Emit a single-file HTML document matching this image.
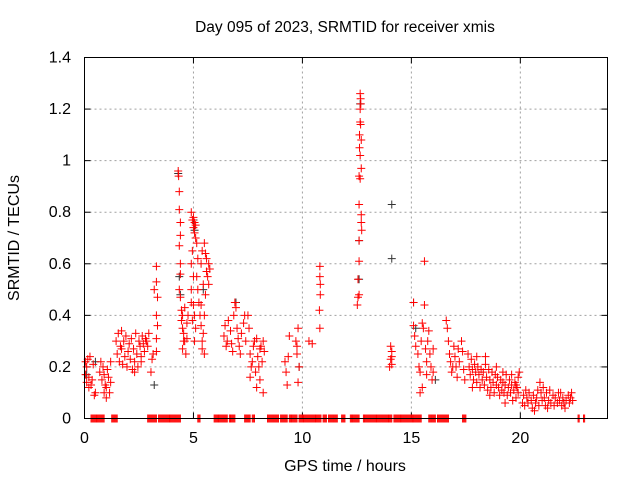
<!DOCTYPE html>
<html><head><meta charset="utf-8"><style>
body{margin:0;background:#fff;width:640px;height:480px;overflow:hidden}
svg{font-family:"Liberation Sans",sans-serif;font-size:16px}
</style></head><body>
<svg id="chart" width="640" height="480" xmlns="http://www.w3.org/2000/svg">
<text x="345" y="32" text-anchor="middle" font-size="15.5">Day 095 of 2023, SRMTID for receiver xmis</text>
<text transform="translate(19,238) rotate(-90)" text-anchor="middle">SRMTID / TECUs</text>
<text x="345" y="471" text-anchor="middle">GPS time / hours</text>
<g id="grid"></g><g id="ticks"></g><g id="marks"></g>
<rect x="84.5" y="57.5" width="523" height="361" fill="none" stroke="#000" stroke-width="1"/>
</svg>
<script>
const xTicks=[0,5,10,15,20];
const yTicks=[0,0.2,0.4,0.6,0.8,1,1.2,1.4];
const yTickLabels=["0","0.2","0.4","0.6","0.8","1","1.2","1.4"];
const redPoints=[[0.05,0.22],[0.05,0.17],[0.1,0.14],[0.1,0.2],[0.15,0.23],[0.2,0.16],[0.2,0.12],[0.25,0.24],[0.3,0.13],[0.35,0.15],[0.4,0.21],[0.45,0.09],[0.5,0.1],[0.7,0.18],[0.75,0.22],[0.8,0.15],[0.85,0.2],[0.9,0.1],[0.9,0.17],[0.95,0.13],[1.0,0.12],[1.0,0.08],[1.05,0.19],[1.1,0.16],[1.15,0.1],[1.2,0.14],[1.2,0.22],
[1.45,0.3],[1.5,0.25],[1.55,0.33],[1.6,0.22],[1.65,0.28],[1.7,0.27],[1.75,0.21],[1.8,0.3],[1.85,0.24],[1.9,0.32],[1.95,0.2],[2.0,0.26],[2.05,0.29],[2.1,0.23],[2.15,0.31],[2.2,0.19],[2.25,0.27],[2.3,0.22],[2.35,0.33],[2.4,0.25],[2.45,0.2],[2.5,0.3],[2.55,0.28],[2.6,0.24],[2.65,0.32],[2.7,0.29],[2.75,0.26],[2.8,0.31],[2.85,0.3],[2.9,0.28],[2.95,0.33],[2.3,0.18],[2.6,0.22],[1.7,0.34],
[3.05,0.18],[3.1,0.23],[3.15,0.25],[3.2,0.5],[3.3,0.59],[3.3,0.53],[3.3,0.4],[3.35,0.47],[3.35,0.36],[3.3,0.26],[3.3,0.31],
[4.3,0.96],[4.32,0.94],[4.35,0.88],[4.35,0.81],[4.4,0.76],[4.4,0.71],[4.35,0.67],[4.4,0.6],[4.4,0.56],[4.35,0.5],[4.4,0.47],[4.45,0.42],[4.45,0.38],[4.5,0.35],[4.5,0.4],[4.55,0.3],[4.5,0.27],[4.55,0.33],[4.6,0.43],[4.6,0.3],[4.65,0.25],[4.7,0.37],[4.75,0.4],[4.7,0.31],
[4.9,0.8],[4.95,0.77],[5.0,0.78],[5.0,0.74],[5.05,0.76],[5.05,0.72],[5.1,0.75],[5.1,0.7],[4.95,0.65],[4.9,0.6],[5.0,0.55],[4.9,0.5],[5.0,0.44],[4.95,0.38],[4.9,0.45],[5.05,0.4],[5.1,0.35],[5.05,0.3],[5.15,0.68],[5.2,0.62],[5.15,0.55],[5.2,0.5],[5.25,0.45],
[5.35,0.44],[5.3,0.4],[5.35,0.36],[5.4,0.3],[5.4,0.27],[5.45,0.33],[5.5,0.25],[5.35,0.6],[5.4,0.65],[5.5,0.68],[5.55,0.64],[5.6,0.62],[5.6,0.57],[5.65,0.55],[5.7,0.6],[5.75,0.58],[5.7,0.52],[5.55,0.48],[5.45,0.52],[5.5,0.4],
[6.4,0.32],[6.45,0.36],[6.5,0.28],[6.55,0.3],[6.6,0.38],[6.7,0.34],[6.75,0.29],[6.8,0.26],[6.85,0.4],[6.9,0.45],[6.95,0.43],[7.0,0.35],[7.05,0.31],[7.1,0.28],[7.15,0.25],[7.2,0.33],[7.3,0.37],[7.35,0.4],[7.4,0.3],
[7.5,0.4],[7.55,0.35],[7.6,0.25],[7.65,0.2],[7.7,0.22],[7.75,0.28],[7.8,0.3],[7.85,0.18],[7.9,0.12],[7.95,0.24],[8.0,0.2],[8.05,0.15],[8.1,0.28],[8.15,0.22],[8.2,0.1],[8.25,0.26],[8.2,0.3],[7.9,0.31],[8.05,0.27],[7.6,0.16],
[9.2,0.22],[9.25,0.18],[9.3,0.13],[9.35,0.24],[9.4,0.32],[9.7,0.3],[9.75,0.25],[9.8,0.35],[9.85,0.2],[9.8,0.14],[9.75,0.28],
[10.3,0.3],[10.45,0.29],[10.8,0.59],[10.8,0.55],[10.82,0.52],[10.82,0.48],[10.78,0.42],[10.8,0.35],
[12.65,1.26],[12.67,1.24],[12.68,1.22],[12.65,1.2],[12.65,1.15],[12.67,1.14],[12.62,1.1],[12.7,1.08],[12.62,1.05],[12.65,1.02],[12.7,0.97],[12.6,0.94],[12.65,0.93],[12.6,0.83],[12.7,0.79],[12.7,0.76],[12.72,0.73],[12.6,0.69],[12.6,0.61],[12.55,0.54],[12.6,0.48],[12.55,0.47],[12.52,0.44],
[14.05,0.28],[14.1,0.26],[14.05,0.23],[14.1,0.21],[14.0,0.2],[14.1,0.24],
[15.1,0.45],[15.1,0.36],[15.15,0.32],[15.2,0.28],[15.3,0.25],[15.35,0.2],[15.4,0.18],[15.45,0.3],[15.5,0.37],[15.55,0.35],[15.6,0.61],[15.6,0.44],[15.65,0.27],[15.7,0.22],[15.75,0.3],[15.8,0.34],[15.85,0.25],[15.9,0.2],[15.95,0.15],[16.0,0.18],[15.5,0.12],[15.4,0.1],[15.7,0.17],[16.0,0.27],
[16.6,0.38],[16.65,0.35],[16.7,0.3],[16.75,0.25],[16.8,0.22],[16.85,0.18],[16.9,0.2],[16.95,0.28],[17.0,0.24],[17.05,0.2],[17.1,0.16],[17.15,0.27],[17.2,0.22],[17.3,0.3],[17.35,0.26],[17.4,0.19],[17.45,0.15],
[17.6,0.25],[17.65,0.2],[17.7,0.17],[17.75,0.23],[17.8,0.19],[17.85,0.15],[17.9,0.21],[17.95,0.18],[18.0,0.14],[18.05,0.2],[18.1,0.17],[18.15,0.12],[18.2,0.19],[18.25,0.15],[18.3,0.18],[18.35,0.13],[18.4,0.21],[18.45,0.16],[18.5,0.11],[18.55,0.19],[18.6,0.15],[18.65,0.12],[18.7,0.18],[18.75,0.14],[18.8,0.1],[18.85,0.17],[18.9,0.13],[18.95,0.16],[19.0,0.12],[19.05,0.09],[19.1,0.15],[19.15,0.11],[19.2,0.14],[19.25,0.1],[19.3,0.13],[19.35,0.17],[19.4,0.09],[19.45,0.12],[19.5,0.15],[19.55,0.1],[19.6,0.13],[19.65,0.07],[19.7,0.11],[19.75,0.14],[19.8,0.08],[19.85,0.12],[19.9,0.16],[19.95,0.18],[19.9,0.1],[19.8,0.13],[19.2,0.18],[18.9,0.2],[18.4,0.24],[18.0,0.24],[17.8,0.12],[18.6,0.09],[19.3,0.06],[19.6,0.17],
[20.1,0.06],[20.15,0.09],[20.2,0.05],[20.3,0.08],[20.35,0.06],[20.4,0.1],[20.5,0.07],[20.55,0.04],[20.6,0.09],[20.7,0.06],[20.75,0.08],[20.8,0.11],[20.85,0.05],[20.9,0.14],[20.95,0.1],[21.0,0.07],[21.05,0.12],[21.1,0.08],[21.15,0.05],[21.2,0.1],[21.3,0.07],[21.35,0.11],[21.4,0.06],[21.5,0.09],[21.55,0.05],[21.6,0.08],[21.7,0.06],[21.75,0.1],[21.8,0.07],[21.9,0.05],[21.95,0.08],[22.0,0.06],[22.05,0.04],[22.1,0.07],[22.2,0.09],[22.25,0.06],[22.3,0.08],[22.35,0.1],[22.4,0.07],[20.25,0.11],[20.65,0.03],[21.25,0.04],[21.85,0.1]];
const blackPoints=[[4.3,0.95],[4.35,0.55],[4.4,0.48],[5.0,0.77],[5.05,0.73],[5.45,0.5],[12.65,1.22],[12.6,0.69],[12.6,0.54],[14.1,0.83],[14.1,0.62],[15.1,0.45],[15.2,0.35],[16.1,0.15],[3.2,0.13],[0.1,0.17],[6.95,0.45],[9.85,0.2],[0.5,0.22]];
const zeroRanges=[[0.3,0.9],[1.25,1.5],[2.9,3.3],[3.4,3.9],[3.9,4.4],[5.2,5.3],[5.95,6.55],[6.65,6.9],[7.35,7.6],[7.7,7.8],[8.4,8.9],[9.0,9.3],[9.4,9.75],[9.85,10.85],[10.95,11.1],[11.2,11.6],[11.8,11.95],[12.2,12.6],[12.8,14.1],[14.2,14.85],[14.9,15.2],[15.25,15.45],[15.8,16.1],[16.2,16.7],[17.35,17.5],[22.65,22.7],[22.9,22.95]];

const NS="http://www.w3.org/2000/svg";
const X0=84.5,X1=607.5,Y0=418.5,Y1=57.5,XMAX=24,YMAX=1.4;
const xs=v=>X0+(X1-X0)*v/XMAX;
const ys=v=>Y0-(Y0-Y1)*v/YMAX;
const grid=document.getElementById('grid'),ticks=document.getElementById('ticks'),marks=document.getElementById('marks');
function mk(tag,attrs,parent){const e=document.createElementNS(NS,tag);for(const k in attrs)e.setAttribute(k,attrs[k]);parent.appendChild(e);return e;}
xTicks.forEach(t=>{
  const x=xs(t);
  if(t>0){const g=mk('line',{x1:x,x2:x,y1:Y0,y2:Y1,stroke:'#a0a0a0','stroke-dasharray':'2,3'},grid);
  
  }
  mk('line',{x1:x,x2:x,y1:Y0,y2:Y0-6,stroke:'#000'},ticks);
  mk('line',{x1:x,x2:x,y1:Y1,y2:Y1+6,stroke:'#000'},ticks);
  const l=mk('text',{x:x,y:443,'text-anchor':'middle'},ticks);l.textContent=t;
  
  
});
yTicks.forEach((t,i)=>{
  const y=ys(t);
  if(t>0&&t<YMAX){const g=mk('line',{x1:X0,x2:X1,y1:y,y2:y,stroke:'#a0a0a0','stroke-dasharray':'2,3'},grid);
  
  }
  mk('line',{x1:X0,x2:X0+6,y1:y,y2:y,stroke:'#000'},ticks);
  mk('line',{x1:X1,x2:X1-6,y1:y,y2:y,stroke:'#000'},ticks);
  const l=mk('text',{x:71,y:y+5,'text-anchor':'end'},ticks);l.textContent=yTickLabels[i];
  
  
});
function plus(x,y){return `M${x-4},${y}h8M${x},${y-4}v8`;}
let dz='';
zeroRanges.forEach(r=>{for(let t=r[0];t<=r[1]+1e-9;t+=0.05)dz+=plus(xs(t),ys(0));});
let dr='';redPoints.forEach(p=>dr+=plus(xs(p[0]),ys(p[1])));
let db='';blackPoints.forEach(p=>db+=plus(xs(p[0]),ys(p[1])));
const pb=mk('path',{d:db,stroke:'#333',fill:'none','stroke-width':1},marks);


const pr=mk('path',{d:dr,stroke:'#ff0000',fill:'none','stroke-width':1},marks);


const pz=mk('path',{d:dz,stroke:'#ff0000',fill:'none','stroke-width':1},marks);


</script>
</body></html>
